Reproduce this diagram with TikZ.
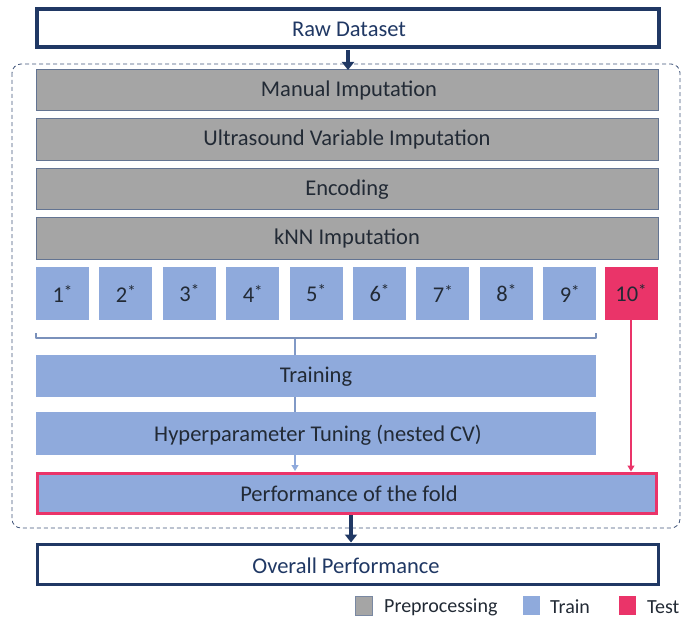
\documentclass[tikz,border=0pt]{standalone}
\usepackage{fontspec}
\setmainfont{Carlito}
\usetikzlibrary{arrows.meta}
\definecolor{navy}{HTML}{203864}
\definecolor{pgray}{HTML}{A5A5A5}
\definecolor{tblue}{HTML}{8FAADC}
\definecolor{tpink}{HTML}{EA3469}
\definecolor{txt}{HTML}{222A35}
\newcommand\foldstar{\raisebox{5pt}{\fontsize{17}{17}\selectfont *}}
\tikzset{
  x=1pt, y=-1pt,
  every node/.style={font=\fontsize{22.5}{27}\selectfont, text=txt, inner sep=0pt, yshift=-1pt},
  outbox/.style={draw=navy, line width=3.5pt, fill=white, text=navy},
  prebox/.style={draw=navy!70, line width=0.6pt, fill=pgray},
  trainbox/.style={fill=tblue},
  testbox/.style={fill=tpink},
  fold/.style={fill=tblue, minimum width=53pt, minimum height=53pt, yshift=1pt},
  navyarrow/.style={draw=navy, line width=3.5pt, -{Triangle[length=8pt,width=12pt]}},
  bluearrow/.style={draw=tblue, line width=1.2pt, -{Triangle[length=6pt,width=7pt]}},
  pinkarrow/.style={draw=tpink, line width=1.2pt, -{Triangle[length=6pt,width=7pt]}},
  legsq/.style={minimum width=17pt, minimum height=19pt, yshift=1pt},
  legtxt/.style={anchor=west, font=\fontsize{20}{24}\selectfont},
}
\begin{document}
\begin{tikzpicture}
\useasboundingbox (0,0) rectangle (694,618);
% dashed container
\draw[navy!85, dash pattern=on 4pt off 3pt, line width=0.8pt, rounded corners=9pt] (12,64) rectangle (680,528);
% raw dataset
\draw[outbox] (37,9) rectangle (659,47);
\node[text=navy] (raw) at (349,28) {Raw Dataset};
\coordinate (rawb) at (348,49);
% preprocessing
\draw[prebox] (36,69) rectangle (658,110); \node (man) at (349,90) {Manual Imputation};
\draw[prebox] (36,118) rectangle (658,160); \node (ult) at (347,139) {Ultrasound Variable Imputation};
\draw[prebox] (36,168) rectangle (658,209); \node (enc) at (347,189) {Encoding};
\draw[prebox] (36,217) rectangle (658,259); \node (knn) at (347,238) {kNN Imputation};
\coordinate (mant) at (348,69);
\draw[navyarrow] (rawb) -- (mant);
% folds
\foreach \i in {1,...,9} {
  \node[fold] (f\i) at ({62.5+63.4*(\i-1)},293.5) {\i\foldstar};
}
\node[fold, fill=tpink] (f10) at (631,293.5) {10\foldstar};
% bracket
\draw[tblue!85!black, line width=2pt, line join=round] (36,333) -- (36,337.5) -- (596,337.5) -- (596,333);
\coordinate (brc) at (295,337.5);
% training
\fill[trainbox] (36,355) rectangle (596,397); \node (train) at (316,376) {Training};
\fill[trainbox] (36,412) rectangle (596,455); \node (hyp) at (318,434) {Hyperparameter Tuning (nested CV)};
\draw[tblue!90!black, line width=1.2pt] (brc) -- (295,355);
\draw[tblue!90!black, line width=1.2pt] (295,397) -- (295,412);
\draw[bluearrow] (295,455) -- (295,471);
% performance fold
\draw[tpink, line width=3pt, fill=tblue] (37.5,473.5) rectangle (656.5,513.5);
\node (perf) at (349,493) {Performance of the fold};
\draw[pinkarrow] (f10.south) -- (631,471.5);
% overall
\draw[outbox] (37.5,544.5) rectangle (658.5,584.5);
\node[text=navy] (ov) at (346,564.5) {Overall Performance};
\draw[navyarrow] (351,515) -- (351,542.5);
% legend
\node[legsq, fill=pgray, draw=navy!60, line width=0.7pt] (l1) at (363.5,605.5) {};
\node[legtxt] (t1) at (384,606) {Preprocessing};
\node[legsq, fill=tblue] (l2) at (531,605.5) {};
\node[legtxt] (t2) at (550,606) {Train};
\node[legsq, fill=tpink] (l3) at (627,605.5) {};
\node[legtxt] (t3) at (647,606) {Test};
\end{tikzpicture}
\end{document}
